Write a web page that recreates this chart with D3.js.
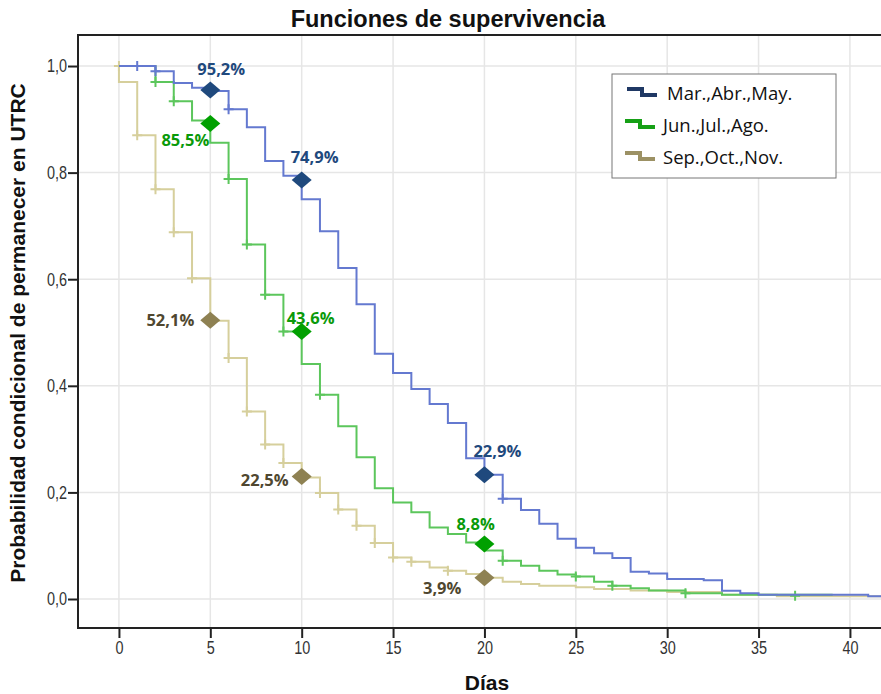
<!DOCTYPE html>
<html>
<head>
<meta charset="utf-8">
<script src="https://cdn.jsdelivr.net/npm/d3@7"></script>
<style>
  body { margin: 0; background: #fff; }
</style>
</head>
<body>
<script>
// survival curves (day, probability)
const groups = ['Mar.,Abr.,May.', 'Jun.,Jul.,Ago.', 'Sep.,Oct.,Nov.']

const blueT = [0, 2, 3, 4, 5, 6, 7, 8, 9, 10, 11, 12, 13, 14, 15, 16, 17, 18, 19, 20, 21, 22, 23, 24, 25, 26, 27, 28, 29, 30, 32, 33, 34, 35, 41, 41.7]
const blueS = [1.0, 0.99, 0.968, 0.959, 0.953, 0.919, 0.885, 0.822, 0.794, 0.75, 0.69, 0.621, 0.553, 0.46, 0.424, 0.394, 0.366, 0.33, 0.264, 0.233, 0.188, 0.167, 0.141, 0.113, 0.096, 0.086, 0.077, 0.051, 0.048, 0.0375, 0.035, 0.0156, 0.011, 0.008, 0.005, 0.005]

const greenT = [0, 2, 3, 4, 5, 6, 7, 8, 9, 10, 11, 12, 13, 14, 15, 16, 17, 18, 19, 20, 21, 22, 23, 24, 25, 26, 27, 28, 29, 31, 33, 39]
const greenS = [1.0, 0.97, 0.934, 0.898, 0.856, 0.788, 0.665, 0.571, 0.502, 0.441, 0.383, 0.324, 0.266, 0.208, 0.181, 0.163, 0.134, 0.122, 0.106, 0.091, 0.072, 0.0625, 0.053, 0.046, 0.042, 0.0325, 0.025, 0.02, 0.016, 0.011, 0.008, 0.006]

const tanT = [0, 0, 1, 2, 3, 4, 5, 6, 7, 8, 9, 10, 11, 12, 13, 14, 15, 16, 17, 18, 19, 20, 21, 22, 23, 25, 26, 28, 30, 33, 36, 41.7]
const tanS = [1.0, 0.97, 0.87, 0.769, 0.688, 0.602, 0.522, 0.452, 0.352, 0.29, 0.255, 0.228, 0.199, 0.168, 0.1375, 0.105, 0.078, 0.07, 0.059, 0.053, 0.047, 0.04, 0.0325, 0.028, 0.025, 0.022, 0.019, 0.016, 0.013, 0.008, 0.005, 0.004]

// censored cases (+)
const blueCensT = [1, 2, 6, 21]
const blueCensS = [1.0, 0.99, 0.919, 0.188]
const greenCensT = [2, 3, 6, 7, 8, 9, 11, 21, 25, 27, 31, 37]
const greenCensS = [0.97, 0.934, 0.788, 0.665, 0.571, 0.502, 0.383, 0.072, 0.042, 0.025, 0.011, 0.006]
const tanCensT = [0, 1, 2, 3, 4, 6, 7, 8, 9, 11, 12, 13, 14, 15, 16, 18]
const tanCensS = [1.0, 0.87, 0.769, 0.688, 0.602, 0.452, 0.352, 0.29, 0.255, 0.199, 0.168, 0.1375, 0.105, 0.078, 0.07, 0.053]

// highlighted points (diamonds) and their labels
const markT = [5, 10, 20]
const blueMarkS = [0.955, 0.786, 0.233]
const greenMarkS = [0.892, 0.502, 0.103]
const tanMarkS = [0.523, 0.230, 0.040]
const blueLabels = ['95,2%', '74,9%', '22,9%']
const greenLabels = ['85,5%', '43,6%', '8,8%']
const tanLabels = ['52,1%', '22,5%', '3,9%']

const xTicks = [0, 5, 10, 15, 20, 25, 30, 35, 40]
const yTicks = [0, 0.2, 0.4, 0.6, 0.8, 1.0]

const width = 881, height = 694
const frame = { left: 78, top: 35, bottom: 628, right: 881 }

const svg = d3.select('body').append('svg')
    .attr('width', width)
    .attr('height', height)
    .style('font-family', '"Liberation Sans", Arial, sans-serif')

const x = d3.scaleLinear().domain([-2.24, 41.7]).range([frame.left, frame.right])
const y = d3.scaleLinear().domain([-0.0544, 1.0582]).range([frame.bottom, frame.top])

// grid
svg.append('g').selectAll('line').data(xTicks).enter().append('line')
    .attr('x1', d => x(d)).attr('x2', d => x(d))
    .attr('y1', frame.top).attr('y2', frame.bottom)
    .attr('stroke', '#e6e6e6').attr('stroke-width', 1.5)
svg.append('g').selectAll('line').data(yTicks).enter().append('line')
    .attr('x1', frame.left).attr('x2', frame.right)
    .attr('y1', d => y(d)).attr('y2', d => y(d))
    .attr('stroke', '#e6e6e6').attr('stroke-width', 1.5)

// axes (narrow tick labels: squeeze horizontally)
const squeeze = 0.78
const xAxis = svg.append('g')
    .attr('transform', 'translate(0,' + frame.bottom + ')')
    .call(d3.axisBottom(x).tickValues(xTicks).tickSize(10).tickSizeOuter(0).tickPadding(3))
const yAxis = svg.append('g')
    .attr('transform', 'translate(' + frame.left + ',0)')
    .call(d3.axisLeft(y).tickValues(yTicks).tickSize(10).tickSizeOuter(0).tickPadding(1)
        .tickFormat(d => d.toFixed(1).replace('.', ',')))
;[xAxis, yAxis].forEach(a => {
    a.select('.domain').remove()
    a.selectAll('.tick line').attr('stroke', '#222').attr('stroke-width', 2)
    a.selectAll('.tick text').attr('fill', '#333').style('font-size', '18.5px')
        .attr('transform', 'scale(' + squeeze + ',1)')
})
yAxis.selectAll('.tick text').attr('x', -11 / squeeze)

svg.append('path')
    .attr('d', 'M' + frame.right + ',' + frame.top + 'H' + frame.left + 'V' + frame.bottom + 'H' + frame.right)
    .attr('fill', 'none').attr('stroke', '#222').attr('stroke-width', 2)

// curves
svg.append('clipPath').attr('id', 'plotClip').append('rect')
    .attr('x', frame.left).attr('y', frame.top)
    .attr('width', frame.right - frame.left).attr('height', frame.bottom - frame.top)
const plot = svg.append('g').attr('clip-path', 'url(#plotClip)')

const series = [
    { t: tanT, s: tanS, ct: tanCensT, cs: tanCensS, color: '#d6cf9c', mark: '#8e8152', text: '#4f4730', ms: tanMarkS, labels: tanLabels },
    { t: greenT, s: greenS, ct: greenCensT, cs: greenCensS, color: '#5cc65c', mark: '#00a000', text: '#0a9a0a', ms: greenMarkS, labels: greenLabels },
    { t: blueT, s: blueS, ct: blueCensT, cs: blueCensS, color: '#6479d0', mark: '#1f497d', text: '#1f497d', ms: blueMarkS, labels: blueLabels }
]

const line = d3.line()
    .x(d => x(d[0]))
    .y(d => y(d[1]))
    .curve(d3.curveStepAfter)

series.forEach(sr => {
    plot.append('path')
        .datum(d3.zip(sr.t, sr.s))
        .attr('d', line)
        .attr('fill', 'none')
        .attr('stroke', sr.color)
        .attr('stroke-width', 2)

    plot.selectAll(null).data(d3.zip(sr.ct, sr.cs)).enter().append('path')
        .attr('d', d => 'M' + (x(d[0]) - 5) + ',' + y(d[1]) + 'h10M' + x(d[0]) + ',' + (y(d[1]) - 5) + 'v10')
        .attr('stroke', sr.color)
        .attr('stroke-width', 2)
})

// diamonds
const labelPos = {
    '95,2%': [-13, -15, 'start'], '74,9%': [-11, -17, 'start'], '22,9%': [-11, -18, 'start'],
    '85,5%': [-1, 22, 'end'], '43,6%': [-15, -7, 'start'], '8,8%': [-28, -14, 'start'],
    '52,1%': [-16, 6, 'end'], '22,5%': [-13, 10, 'end'], '3,9%': [-23, 16, 'end']
}

series.forEach(sr => {
    markT.forEach((t, i) => {
        const cx = x(t), cy = y(sr.ms[i])
        svg.append('path')
            .attr('d', 'M' + (cx - 10) + ',' + cy + 'L' + cx + ',' + (cy - 8.5) + 'L' + (cx + 10) + ',' + cy + 'L' + cx + ',' + (cy + 8.5) + 'Z')
            .attr('fill', sr.mark)
        const p = labelPos[sr.labels[i]]
        svg.append('text')
            .attr('x', cx + p[0])
            .attr('y', cy + p[1])
            .attr('text-anchor', p[2])
            .attr('fill', sr.text)
            .style('font-family', '"Open Sans", sans-serif')
            .style('font-weight', 'bold')
            .style('font-size', '16.5px')
            .text(sr.labels[i])
    })
})

// legend
const legend = svg.append('g')
legend.append('rect')
    .attr('x', 612).attr('y', 74).attr('width', 224).attr('height', 104)
    .attr('fill', '#fff').attr('stroke', '#777').attr('stroke-width', 1)
const legendColors = ['#1f3864', '#16a016', '#9c9164']
groups.forEach((g, i) => {
    const ly = 92 + i * 32, lx = i === 0 ? 627 : 625
    legend.append('path')
        .attr('d', 'M' + lx + ',' + (ly - 3) + 'h15v6h15')
        .attr('fill', 'none')
        .attr('stroke', legendColors[i])
        .attr('stroke-width', 4)
    legend.append('text')
        .attr('x', i === 0 ? 667 : 663)
        .attr('y', ly + 8)
        .attr('fill', '#111')
        .style('font-family', '"Open Sans", sans-serif')
        .style('font-size', '18.5px')
        .text(g)
})

// titles
svg.append('text')
    .attr('x', 448).attr('y', 27)
    .attr('text-anchor', 'middle')
    .style('font-size', '23.5px')
    .style('font-weight', 'bold')
    .attr('fill', '#111')
    .text('Funciones de supervivencia')

svg.append('text')
    .attr('x', 487).attr('y', 690)
    .attr('text-anchor', 'middle')
    .style('font-size', '21px')
    .style('font-weight', 'bold')
    .attr('fill', '#111')
    .text('Días')

svg.append('text')
    .attr('transform', 'translate(25,' + 333 + ')rotate(-90)')
    .attr('text-anchor', 'middle')
    .style('font-size', '21px')
    .style('font-weight', 'bold')
    .attr('fill', '#111')
    .text('Probabilidad condicional de permanecer en UTRC')
</script>
</body>
</html>
